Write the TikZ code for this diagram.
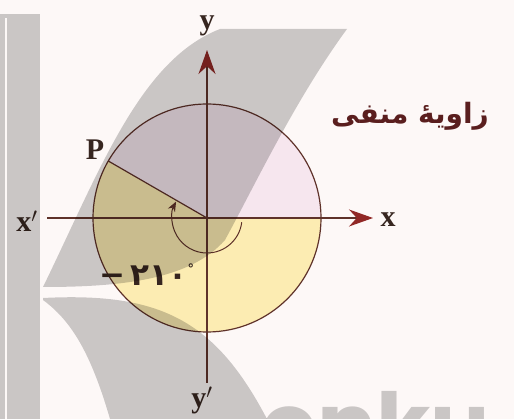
\documentclass[tikz,border=0pt]{standalone}
\usepackage{fontspec}
\setmainfont{Liberation Serif}
\newfontfamily\arabicfont[Script=Arabic]{DejaVu Sans}
\newfontfamily\wmfont{Poppins}
\TeXXeTstate=1
\usetikzlibrary{arrows.meta}

\definecolor{bg}{RGB}{253,248,247}
\definecolor{ink}{RGB}{95,50,42}
\definecolor{arrowred}{RGB}{145,40,38}
\definecolor{yell}{RGB}{252,236,178}
\definecolor{pinkish}{RGB}{246,230,238}
\definecolor{txt}{RGB}{55,38,32}
\definecolor{ptxt}{RGB}{90,30,30}

\begin{document}
\begin{tikzpicture}[x=1pt,y=1pt,
  axis/.style={draw=ink, line width=1.3pt},
  axarrow/.style={-{Stealth[length=24pt,width=17pt,color=arrowred]}},
  lbl/.style={font=\fontsize{30}{30}\selectfont\bfseries, text=txt, inner sep=0pt},
  fa/.style={font=\arabicfont\fontsize{28}{28}\selectfont\bfseries, inner sep=0pt},
  wmark/.style={fill=black, fill opacity=0.2, text opacity=0.2}]
\useasboundingbox (0,0) rectangle (514,-419);
\clip (0,0) rectangle (514,-419);
\fill[bg] (0,0) rectangle (514,-419);

\coordinate (O) at (207,-218);
\path (O) ++(150:114) coordinate (P);
\coordinate (xl) at (47,-218);
\coordinate (xr) at (373,-218);
\coordinate (yb) at (207,-383);
\coordinate (yt) at (207,-50);

% sectors
\fill[yell] (O) -- ++(150:114) arc (150:360:114) -- cycle;
\fill[pinkish] (O) -- ++(0:114) arc (0:150:114) -- cycle;
\draw[ink, line width=1.2pt] (O) circle (114);

% axes
\draw[axis, axarrow] (xl) -- (xr);
\draw[axis, axarrow] (yb) -- (yt);

% radius and angle arc
\draw[ink, line width=1.2pt] (O) -- (P);
\draw[ink, line width=1pt, -{Stealth[length=10pt,width=8pt]}] (O) ++(-7:35) arc (-7:-208:35);

% labels
\node[lbl] (xlab) at (388,-220) {x};
\node[lbl] (xplab) at (27,-221) {x$'$};
\node[lbl] (ylab) at (207,-26) {y};
\node[lbl] (yplab) at (202,-400) {y$'$};
\node[lbl] (Plab) at (95,-150) {P};
\node[fa, text=ptxt] (title) at (410,-116) {\beginR زاویهٔ منفی\endR};
\node[fa, text=txt, font=\arabicfont\fontsize{31}{31}\selectfont\bfseries] (ang) at (147,-275)
  {\mbox{−}\,\mbox{۲۱۰}\raisebox{12pt}{\fontsize{13}{13}\selectfont °}};

% watermark
\fill[wmark] (0,-14) rectangle (40,-419);
\fill[wmark] (43,-287) .. controls (100,-170) and (140,-60) .. (220,-29) -- (347,-29)
   .. controls (295,-100) and (255,-185) .. (225,-240)
   .. controls (190,-280) and (120,-287) .. (43,-287) -- cycle;
\fill[wmark] (43,-298) .. controls (160,-292) and (215,-320) .. (267,-419) -- (110,-419)
   .. controls (90,-350) and (70,-320) .. (43,-300) -- cycle;
\node[font=\wmfont\fontsize{88}{88}\selectfont\bfseries, text=black, text opacity=0.2, anchor=base west, inner sep=0pt] (wmtext) at (261,-456) {onku};
\fill[bg] (4.5,-18) rectangle (7,-419);
\end{tikzpicture}
\end{document}
